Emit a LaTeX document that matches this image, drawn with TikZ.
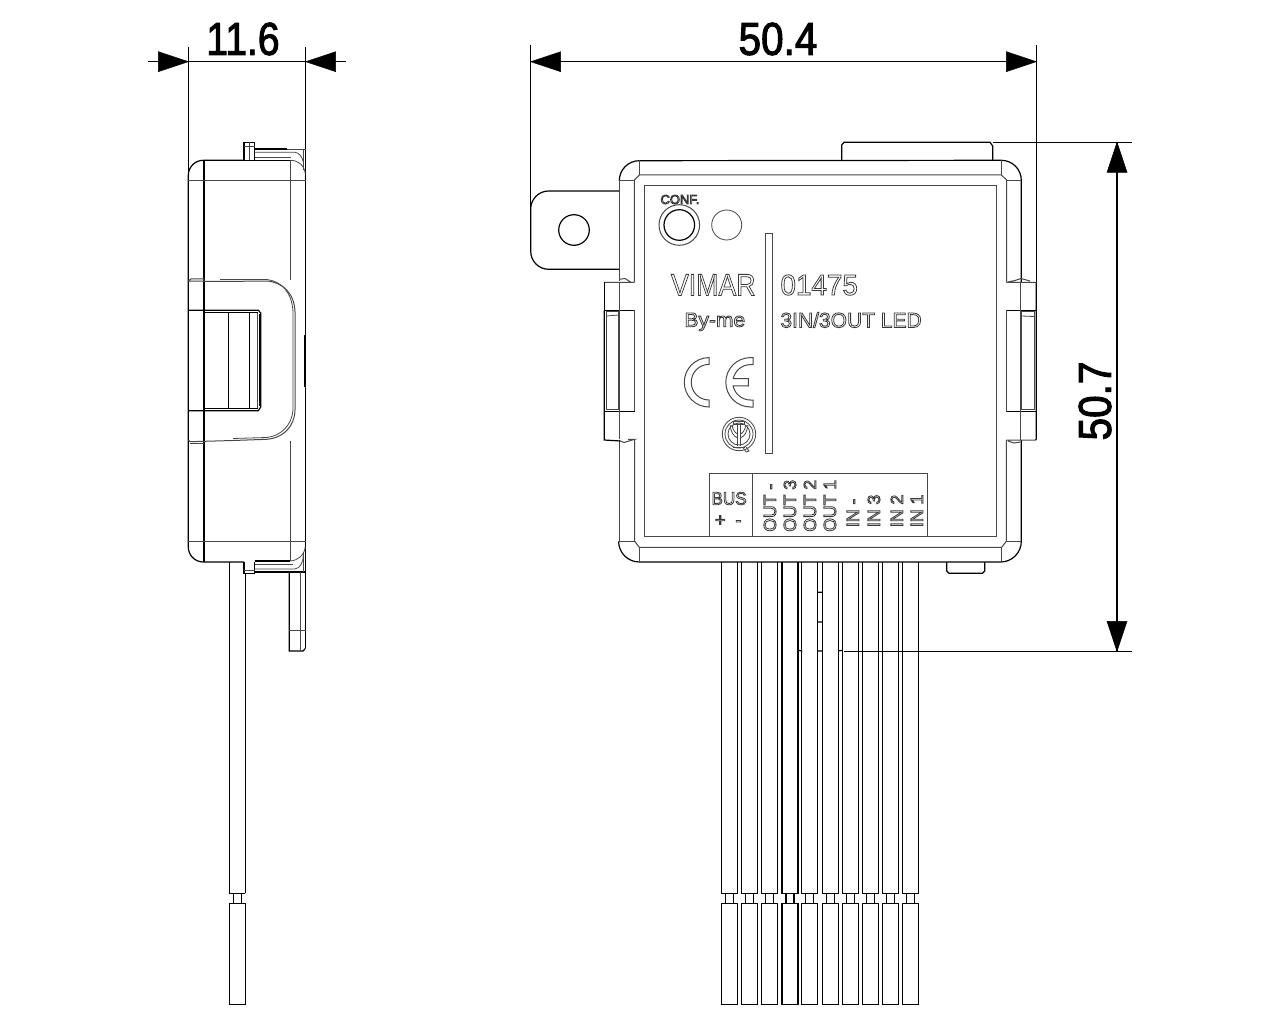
\documentclass[tikz,border=0pt]{standalone}
\usepackage{fontspec}
\setmainfont{Liberation Sans}
\definecolor{gl}{gray}{0.28}
\definecolor{tl}{gray}{0.22}
\newcommand{\olt}[2]{\fontsize{#1}{#1}\selectfont\special{pdf:code q 1 Tr 0.8 w}#2\special{pdf:code Q}}
\newcommand{\bdt}[1]{\fontsize{46}{46}\selectfont\special{pdf:code q 2 Tr 1.1 w}#1\special{pdf:code Q}}
\tikzset{
  bl/.style={draw=black,line width=1.2pt},
  thk/.style={draw=black,line width=1.8pt},
  gr/.style={draw=gl,line width=1pt},
  thn/.style={draw=gl,line width=.8pt},
  lab/.style={inner sep=0pt,outer sep=0pt,anchor=base west,text=tl},
  vlab/.style={lab,rotate=90},
  dimtext/.style={inner sep=0pt,outer sep=0pt,text=black},
  tip/.style={fill=black,draw=black,line width=.5pt}
}
\begin{document}
\begin{tikzpicture}[x=1pt,y=-1pt]
\useasboundingbox[fill=white] (0,0) rectangle (1280,1024);
% ---------- dimensions
\draw[bl] (188.3,46.7) -- (188.3,175);
\draw[bl] (305.5,46.7) -- (305.5,648.3);
\draw[bl] (148.3,61.7) -- (345.7,61.7);
\fill[tip] (188.3,61.7) -- (158.3,51.7) -- (158.3,71.7) -- cycle;
\fill[tip] (305.7,61.7) -- (335.7,51.7) -- (335.7,71.7) -- cycle;
\node[dimtext,xscale=.85] (d1) at (243,39) {\bdt{11.6}};
\draw[bl] (530.7,45) -- (530.7,209);
\draw[bl] (1036.3,45) -- (1036.3,282);
\draw[bl] (530.7,61.7) -- (1036.3,61.7);
\fill[tip] (530.7,61.7) -- (560.7,51.7) -- (560.7,71.7) -- cycle;
\fill[tip] (1036.3,61.7) -- (1006.3,51.7) -- (1006.3,71.7) -- cycle;
\node[dimtext,xscale=.88] (d2) at (778,39) {\bdt{50.4}};
\draw[bl] (992.7,142.3) -- (1132,142.3);
\draw[bl] (844,651.3) -- (1132,651.3);
\draw[bl] (1117,142.3) -- (1117,651.3);
\fill[tip] (1117,142.3) -- (1107,172.3) -- (1127,172.3) -- cycle;
\fill[tip] (1117,651.3) -- (1107,621.3) -- (1127,621.3) -- cycle;
\node[dimtext,rotate=90,xscale=.88] (d3) at (1095,401) {\bdt{50.7}};
% ---------- side view: body
\draw[bl] (244,160.3) -- (203.3,160.3) arc[start angle=90,end angle=180,radius=15pt] -- (188.3,547) arc[start angle=180,end angle=270,radius=15pt] -- (244,562);
\draw[thk] (204,160.3) -- (204,562);
\draw[thn] (188.3,180.7) -- (305.5,180.7);
\draw[thn] (188.3,541.7) -- (305.5,541.7);
\draw[thn] (290.3,160.3) -- (290.3,280);
\draw[thn] (290.3,441) -- (290.3,561);
% top pin and flange
\draw[bl] (244,160.3) -- (244,142.3) -- (254.7,142.3) -- (254.7,160.3) -- cycle;
\draw[thn] (249.3,142.3) -- (249.3,160.3) (244,146.7) -- (254.7,146.7);
\draw[bl] (254.7,149) -- (287,149);
\draw[thn] (287,149.5) -- (305.5,149.5);
\draw[bl] (254.7,160.3) -- (290.3,160.3);
\draw[thn] (290.3,160.3) .. controls (298,160.3) and (304.5,165) .. (305.3,174);
\draw[thn] (254.7,152.3) -- (295,152.3) .. controls (299,153) and (302,156) .. (303.3,162);
\draw[thn] (254.7,157.7) -- (291,157.7);
\draw[thn] (303.3,149.5) -- (303.3,170);
% clip on the side
\draw[gr] (188.3,281) -- (191,279) -- (204,279) (188.3,281) -- (220,281.5) -- (266.7,281) .. controls (283,282) and (294.5,294) .. (295,311.7) -- (295,410) .. controls (294.5,427) and (283,438) .. (266.7,439.3) -- (233,440.5) -- (190,441.7) -- (188.3,440);
\draw[thn] (204,278.5) -- (204,281) (220,279.5) -- (266.7,279.5) .. controls (281,281) and (292,292) .. (293,311.7) -- (293,410) .. controls (292,425) and (281,436) .. (266.7,437.5) -- (233,438.5);
\draw[thn] (190,443.5) -- (204,443.5);
\draw[bl] (188.3,310.3) -- (258.3,310.3) -- (260.7,313) -- (260.7,407) -- (258.3,410.7) -- (188.3,410.7);
\draw[bl] (204,312.7) -- (258,312.7) (204,408.3) -- (258,408.3);
\draw[bl] (228.7,312.7) -- (228.7,408.3);
\draw[bl] (249.3,312.7) -- (249.3,408.3);
\draw[thk] (259.5,314) -- (259.5,406);
\draw[thn] (257.5,313) -- (257.5,408);
\draw[thk] (304.4,335) -- (304.4,386.7);
% bottom pin, flange and tab
\draw[bl] (244,562) -- (244,573.3) -- (254.7,573.3) -- (254.7,562);
\draw[thn] (244,570) -- (254.7,570);
\draw[bl] (254.7,561) -- (290.3,561);
\draw[thn] (290.3,561) .. controls (298,560.5) and (304.5,555) .. (305.3,546.7);
\draw[bl] (305.5,648.3) -- (303,651) -- (289.3,651) -- (289.3,572);
\draw[bl] (254.7,572) -- (305.5,572);
\draw[thn] (254.7,564) -- (293,564);
\draw[thn] (254.7,569) -- (295,569) .. controls (300,568) and (303,563) .. (303.3,556);
\draw[thn] (303.3,552) -- (303.3,572);
\draw[thn] (300,572) -- (300,651) (289.3,630.3) -- (305.5,630.3);
% wire of the side view
\draw[bl] (229.3,562) -- (229.3,893.3) (245.3,573.3) -- (245.3,893.3) (229.3,893.3) -- (245.3,893.3);
\draw[bl] (233.3,893.3) rectangle (241.3,903.3);
\draw[bl] (229.3,903.3) rectangle (245.3,1004.3);
% ---------- front view: fixing tab
\draw[bl] (619.3,191) -- (548.7,191) arc[start angle=90,end angle=180,radius=18pt] -- (530.7,251.3) arc[start angle=180,end angle=270,radius=18pt] -- (619.3,269.3);
\node[circle,draw=black,line width=1.2pt,minimum size=30.6pt,inner sep=0pt] (hole) at (574,230) {};
% top tab
\draw[bl] (841.7,160.3) -- (841.7,145) -- (844,142.3) -- (990,142.3) -- (992.7,146) -- (992.7,160.3);
% bottom tab
\draw[bl] (946.7,562.3) -- (946.7,571) -- (949,573.3) -- (982.4,573.3) -- (984.7,571) -- (984.7,562.3);
% wires
\foreach \c in {729.5,749.3,769.8,790,809.8,830.3,850.3,870.3,890.3,910.3}{
  \draw[bl] (\c-8,562.3) -- (\c-8,893.3) -- (\c+8,893.3) -- (\c+8,562.3);
  \draw[bl] (\c-4,893.3) rectangle (\c+4,903.3);
  \draw[bl] (\c-8,903.3) rectangle (\c+8,1004.3);
}
\draw[thk] (782,562.3) -- (782,636);
\draw[bl] (817.3,592.3) -- (822.3,592.3) (817.3,622) -- (822.3,622) (817.3,651) -- (822.3,651) (797.7,650.3) -- (802.3,651) (838.3,651) -- (842.3,650.3);
% body outline
\draw[fill=white,draw=none] (619.3,180.7) rectangle (1021.3,541.3);
\draw[bl] (619.3,180.7) arc[start angle=180,end angle=90,radius=20pt] -- (1001.3,160.3) arc[start angle=90,end angle=0,radius=20pt] -- (1021.3,282.3);
\draw[bl] (1021.3,440) -- (1021.3,541.3) arc[start angle=0,end angle=-90,radius=20.7pt] -- (639.3,562) arc[start angle=270,end angle=180,radius=20.7pt];
\draw[gr] (619.3,180.7) -- (619.3,281) (619.3,439.5) -- (619.3,541.3);
\draw[gr] (639.3,160.3) -- (639.3,175) (1001.3,160.3) -- (1001.3,175);
\draw[gr] (619.3,180.7) -- (634.3,180.7) (1006.7,180.7) -- (1021.3,180.7);
\draw[gr] (634.3,282.3) -- (634.3,180) -- (639.3,175) -- (1001.3,175) -- (1006.7,180) -- (1006.7,282.3);
\draw[gr] (634.7,439.3) -- (634.7,541.3) -- (639.3,547.3) -- (1001.7,547.3) -- (1006.3,541.3) -- (1006.3,440);
\draw[gr] (619.3,541.3) -- (634.7,541.3) (639.3,547.3) -- (639.3,562) (1006.3,541.3) -- (1021.3,541.3) (1001.7,547.3) -- (1001.7,562.3);
\draw[gr] (644.3,185.3) rectangle (996.7,536.3);
% left clip
\draw[gr] (604.3,282.3) -- (634.3,282.3) (619.7,279.3) -- (625,278.5) -- (631,282.3);
\draw[bl] (604.3,310.3) -- (604.3,282.3);
\draw[gr] (634.3,310.3) -- (634.3,411.3);
\draw[bl] (604.3,310.3) -- (634.3,310.3) (604.3,411.3) -- (634.7,411.3);
\draw[gr] (619.5,282.3) -- (619.5,439);
\draw[thn] (605.9,311.7) -- (605.9,409) -- (618.7,409) -- (618.7,311.7) -- cycle;
\draw[thn] (606.5,316) -- (618.7,315);
\draw[bl] (604.3,311) -- (604.3,440) -- (620.5,441);
\draw[gr] (620.5,441) -- (624,442.5) -- (634.7,439.3) -- (628,439.3);
% right clip
\draw[gr] (1006.7,282.3) -- (1036.3,282.3) (1006.7,282.3) -- (1015,280.5) -- (1021,278.5) -- (1030,281);
\draw[bl] (1006.5,310.3) -- (1036.3,310.3);
\draw[gr] (1006.5,310.3) -- (1006.5,411.7);
\draw[bl] (1006.5,411.7) -- (1036.3,411.7);
\draw[gr] (1020.7,282.3) -- (1020.7,440);
\draw[bl] (1036.3,282.3) -- (1036.3,439) -- (1035.5,440);
\draw[thn] (1021.7,311.7) -- (1034.8,311.7) -- (1034.8,409) -- (1021.7,409) -- cycle;
\draw[thn] (1021.7,316) -- (1034,316.5);
\draw[gr] (1006.3,440) -- (1036,440) (1008,441) -- (1014,443) -- (1020.5,442);
% button, led and slit
\node[circle,draw=black,line width=1.2pt,minimum size=30.6pt,inner sep=0pt] (btn) at (679.3,225) {};
\node[circle,draw=gl,line width=1pt,minimum size=40.6pt,inner sep=0pt] (btnring) at (679.3,225) {};
\node[circle,draw=gl,line width=.8pt,minimum size=30pt,inner sep=0pt] (led) at (726.7,225) {};
\draw[gr] (765.5,234) rectangle (772.7,453.3);
% texts
\node[lab] (conf) at (660.5,204) {\olt{13}{CONF.}};
\node[lab,xscale=.87] (vimar) at (671,295.5) {\olt{30.7}{VIMAR}};
\node[lab,xscale=1.05] (byme) at (684.5,326.7) {\olt{20}{By-me}};
\node[lab,xscale=.96] (code) at (780.5,295) {\olt{29}{01475}};
\node[lab] (desc) at (780.5,327.5) {\olt{21}{3IN/3OUT LED}};
% CE
\draw[gr] (709,357.6) arc[start angle=90,end angle=270,radius=24.7pt] -- (709,400) arc[start angle=270,end angle=90,radius=17.8pt] -- cycle;
\draw[gr] (753,357.6) -- (750.5,357.6) arc[start angle=90,end angle=270,radius=24.7pt] -- (753,407) -- (753,400) -- (750.5,400) arc[start angle=270,end angle=192,radius=17.8pt] -- (748.3,386) -- (748.3,378.7) -- (733.2,378.7) arc[start angle=168,end angle=90,radius=17.8pt] -- (753,364.5) -- cycle;
% IMQ mark
\node[circle,draw=gl,line width=.8pt,minimum size=33.4pt,inner sep=0pt] (q1) at (739,434) {};
\node[circle,draw=gl,line width=.8pt,minimum size=28pt,inner sep=0pt] (q2) at (739,434) {};
\node[circle,draw=gl,line width=.8pt,minimum size=22pt,inner sep=0pt] (q3) at (739,434) {};
\draw[thn] (737.7,423) -- (737.7,446) (740.3,423) -- (740.3,446) (733.5,421) -- (744.5,421) -- (744.5,424) -- (733.5,424) -- cycle;
\draw[thn] (730,425) .. controls (731,432) and (733,436) .. (737.7,438) (748,425) .. controls (747,432) and (745,436) .. (740.3,438);
\draw[thn] (732,425) .. controls (733,430) and (735,433) .. (737.7,434) (746,425) .. controls (745,430) and (743,433) .. (740.3,434);
\draw[thn] (733,447) -- (745,447);
\draw[thn] (743,447.5) -- (746,452) -- (749,451) -- (746,447);
% terminal table
\draw[gr] (709.3,536.3) -- (709.3,473.3) -- (927.3,473.3) -- (927.3,536.3);
\draw[gr] (752.3,473.3) -- (752.3,536.3);
\node[lab,xscale=.95] (bus) at (711.5,504.7) {\olt{18}{BUS}};
\node[lab] (bp) at (715,526) {\olt{18}{+}};
\node[lab] (bm) at (735.5,526) {\olt{18}{-}};
\node[vlab] (o0) at (776,531.7) {\olt{17.6}{OUT -}};
\node[vlab] (o3) at (796,531.7) {\olt{17.6}{OUT 3}};
\node[vlab] (o2) at (816,531.7) {\olt{17.6}{OUT 2}};
\node[vlab] (o1) at (836,531.7) {\olt{17.6}{OUT 1}};
\node[vlab] (i0) at (859,527) {\olt{17.6}{IN -}};
\node[vlab] (i3) at (880,527) {\olt{17.6}{IN 3}};
\node[vlab] (i2) at (903,527) {\olt{17.6}{IN 2}};
\node[vlab] (i1) at (923,527) {\olt{17.6}{IN 1}};
\end{tikzpicture}
\end{document}
